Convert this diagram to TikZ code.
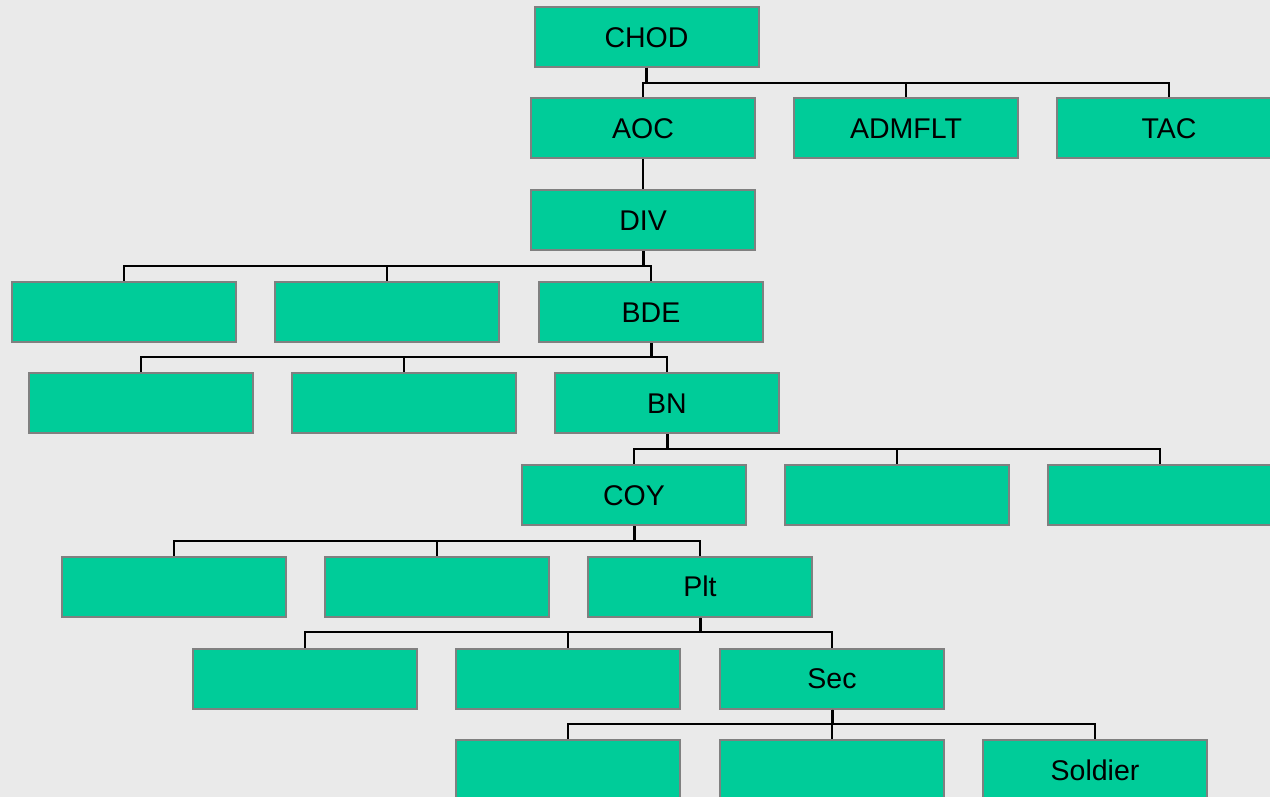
\documentclass[tikz,border=0pt]{standalone}
\usepackage{fontspec}
\setmainfont{Liberation Sans}
\definecolor{bg}{HTML}{EAEAEA}
\definecolor{boxfill}{HTML}{00CC99}
\definecolor{boxline}{HTML}{808080}
\begin{document}
\begin{tikzpicture}[x=1pt,y=-1pt,
  orgbox/.style={draw=boxline, line width=2pt, fill=boxfill, minimum width=224pt, minimum height=60pt,
    inner sep=0pt, text height=20.4pt, text depth=0pt, font=\fontsize{28.5}{32}\selectfont},
  conn/.style={draw=black, line width=2pt},
  stem/.style={draw=black, line width=3pt}]
\fill[bg] (0,0) rectangle (1270,797);
\useasboundingbox (0,0) rectangle (1270,797);
% nodes
\node[orgbox] (chod) at (646.5,37) {CHOD};
\node[orgbox] (aoc) at (643,128.5) {AOC};
\node[orgbox] (admflt) at (906,128.5) {ADMFLT};
\node[orgbox] (tac) at (1169,128.5) {TAC};
\node[orgbox] (div) at (643,220) {DIV};
\node[orgbox] (r1a) at (124,312) {};
\node[orgbox] (r1b) at (387,312) {};
\node[orgbox] (bde) at (651,312) {BDE};
\node[orgbox] (r2a) at (141,403) {};
\node[orgbox] (r2b) at (404,403) {};
\node[orgbox] (bn) at (667,403) {BN};
\node[orgbox] (coy) at (634,495) {COY};
\node[orgbox] (r3b) at (897,495) {};
\node[orgbox] (r3c) at (1160,495) {};
\node[orgbox] (r4a) at (174,586.5) {};
\node[orgbox] (r4b) at (437,586.5) {};
\node[orgbox] (plt) at (700,586.5) {Plt};
\node[orgbox] (r5a) at (305,678.5) {};
\node[orgbox] (r5b) at (568,678.5) {};
\node[orgbox] (sec) at (832,678.5) {Sec};
\node[orgbox] (r6a) at (568,770) {};
\node[orgbox] (r6b) at (832,770) {};
\node[orgbox] (soldier) at (1095,770) {Soldier};
% bar levels
\coordinate (b0) at (0,83);
\coordinate (b2) at (0,266);
\coordinate (b3) at (0,357);
\coordinate (b4) at (0,449);
\coordinate (b5) at (0,541);
\coordinate (b6) at (0,632);
\coordinate (b7) at (0,724);
% connectors
\foreach \c in {aoc,admflt,tac}
  \draw[conn] (chod.south) -- (chod.south |- b0) -| (\c.north);
\draw[stem] (chod.south) -- (chod.south |- b0);
\draw[conn] (aoc.south) -- (div.north);
\foreach \c in {r1a,r1b,bde}
  \draw[conn] (div.south) -- (div.south |- b2) -| (\c.north);
\draw[stem] (div.south) -- (div.south |- b2);
\foreach \c in {r2a,r2b,bn}
  \draw[conn] (bde.south) -- (bde.south |- b3) -| (\c.north);
\draw[stem] (bde.south) -- (bde.south |- b3);
\foreach \c in {coy,r3b,r3c}
  \draw[conn] (bn.south) -- (bn.south |- b4) -| (\c.north);
\draw[stem] (bn.south) -- (bn.south |- b4);
\foreach \c in {r4a,r4b,plt}
  \draw[conn] (coy.south) -- (coy.south |- b5) -| (\c.north);
\draw[stem] (coy.south) -- (coy.south |- b5);
\foreach \c in {r5a,r5b,sec}
  \draw[conn] (plt.south) -- (plt.south |- b6) -| (\c.north);
\draw[stem] (plt.south) -- (plt.south |- b6);
\foreach \c in {r6a,r6b,soldier}
  \draw[conn] (sec.south) -- (sec.south |- b7) -| (\c.north);
\draw[stem] (sec.south) -- (sec.south |- b7);
\end{tikzpicture}
\end{document}
